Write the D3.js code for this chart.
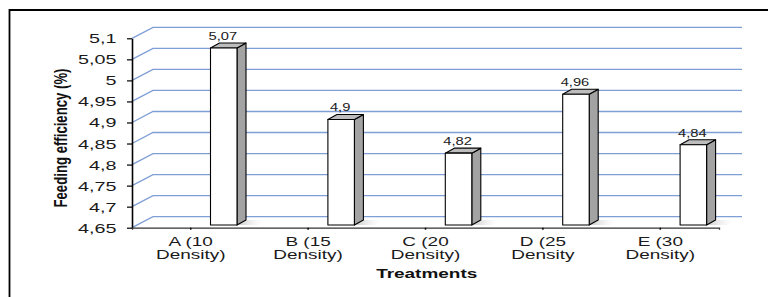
<!DOCTYPE html>
<html>
<head>
<meta charset="utf-8">
<script src="https://cdn.jsdelivr.net/npm/d3@7"></script>
<style>
  html, body { margin: 0; padding: 0; background: #fff; }
  svg { display: block; font-family: "Liberation Sans", Arial, sans-serif; }
</style>
</head>
<body>
<svg id="chart" width="768" height="297"></svg>
<script>
const categories = ["A (10 Density)", "B (15 Density)", "C (20 Density)", "D (25 Density", "E (30 Density)"];
const values = [5.07, 4.9, 4.82, 4.96, 4.84];
const yTicks = [4.65, 4.7, 4.75, 4.8, 4.85, 4.9, 4.95, 5, 5.05, 5.1];
const yTitle = "Feeding efficiency (%)";
const xTitle = "Treatments";

(function () {
const svg = d3.select("#chart");
const SX = 1.58; // horizontal stretch of texts in the original

const pLeft = 132, pRight = 719, pTop = 38.3, pBottom = 227.7;
const depthX = 21, depthY = -11;
const wallRight = 742;

const x = d3.scaleBand().domain(categories).range([pLeft, pRight]).paddingInner(0).paddingOuter(0);
const y = d3.scaleLinear().domain([4.65, 5.1]).range([pBottom, pTop]);

const comma = v => String(v).replace(".", ",");

const defs = svg.append("defs");
const lg = defs.append("linearGradient").attr("id", "shadow").attr("x1", 0).attr("x2", 1).attr("y1", 0).attr("y2", 0);
lg.append("stop").attr("offset", 0).attr("stop-color", "#c8c8c8");
lg.append("stop").attr("offset", 1).attr("stop-color", "#ffffff").attr("stop-opacity", 0);

// frame
svg.append("path")
  .attr("d", `M9.5,297 L9.5,10 L768,10`)
  .attr("fill", "none").attr("stroke", "#000").attr("stroke-width", 1.8);

// grid: left wall diagonals + back wall horizontals
const grid = svg.append("g").attr("stroke", "#7f9ed6").attr("stroke-width", 1.3).attr("fill", "none");
grid.selectAll("path").data(yTicks).join("path")
  .attr("d", t => `M${pLeft},${y(t)} L${pLeft + depthX},${y(t) + depthY} L${wallRight},${y(t) + depthY}`);

// y axis
const yAxis = svg.append("g").attr("transform", `translate(${pLeft},0)`)
  .call(d3.axisLeft(y).tickValues(yTicks).tickSize(5).tickSizeOuter(0).tickFormat(comma));
yAxis.select(".domain").attr("stroke", "#000").attr("stroke-width", 1.6);
yAxis.selectAll(".tick line").attr("stroke", "#000").attr("stroke-width", 1.2);
yAxis.selectAll(".tick text")
  .attr("x", -15.5 / SX).attr("dy", "0.36em")
  .attr("transform", `scale(${SX},1)`)
  .attr("font-size", 12.5).attr("fill", "#1a1a1a")
  .attr("font-family", "'Liberation Sans', Arial, sans-serif");

// x axis
const xAxis = svg.append("g").attr("transform", `translate(0,${pBottom})`)
  .call(d3.axisBottom(x).tickSize(2).tickSizeOuter(2).tickFormat(""));
xAxis.select(".domain").attr("stroke", "#333").attr("stroke-width", 1.3);
xAxis.selectAll(".tick line").attr("stroke", "#000").attr("stroke-width", 1.5);

const xl = svg.append("g");
categories.forEach(c => {
  const m = c.match(/^(\S+ \(\d+) (.*)$/);
  const cx = x(c) + x.bandwidth() / 2;
  const g = xl.append("g").attr("transform", `translate(${cx},0) scale(${SX},1)`);
  g.append("text").attr("x", 0).attr("y", 246).attr("text-anchor", "middle")
    .attr("font-size", 12).attr("fill", "#1a1a1a").text(m[1]);
  g.append("text").attr("x", 0).attr("y", 259.5).attr("text-anchor", "middle")
    .attr("font-size", 12).attr("fill", "#1a1a1a").text(m[2]);
});

// bars (3D)
const barOff = 19.8, barW = 26.5, bdx = 9, bdy = -5, barBottom = 225;
const bars = svg.append("g");
categories.forEach((c, i) => {
  const v = values[i];
  const x0 = x(c) + x.bandwidth() / 2 + barOff;
  const yt = y(v) - 3;
  // floor shadow
  bars.append("path").attr("fill", "url(#shadow)")
    .attr("d", `M${x0 + barW},${barBottom} L${x0 + barW + bdx},${barBottom + bdy} L${x0 + barW + bdx + 22},${barBottom + bdy} L${x0 + barW + 20},${barBottom} Z`);
  const g = bars.append("g").attr("stroke", "#000").attr("stroke-width", 1.1).attr("stroke-linejoin", "round");
  g.append("path").attr("fill", "#a3a3a3")
    .attr("d", `M${x0 + barW},${barBottom} L${x0 + barW + bdx},${barBottom + bdy} L${x0 + barW + bdx},${yt + bdy} L${x0 + barW},${yt} Z`);
  g.append("path").attr("fill", "#bdbdbd")
    .attr("d", `M${x0},${yt} L${x0 + bdx},${yt + bdy} L${x0 + barW + bdx},${yt + bdy} L${x0 + barW},${yt} Z`);
  g.append("rect").attr("x", x0).attr("y", yt).attr("width", barW).attr("height", barBottom - yt).attr("fill", "#fff");
  svg.append("g").attr("transform", `translate(${x0 + barW / 2 - 1},${yt - 8}) scale(1.4,1)`)
    .append("text").attr("text-anchor", "middle").attr("font-size", 10.5).attr("fill", "#1a1a1a").text(comma(v));
});

// axis titles
svg.append("g").attr("transform", `translate(426.7,278) scale(${SX},1)`)
  .append("text").attr("text-anchor", "middle").attr("font-size", 12).attr("font-weight", "bold").attr("fill", "#111").text(xTitle);

svg.append("g").attr("transform", `translate(67,138) scale(1.55,1) rotate(-90)`)
  .append("text").attr("text-anchor", "middle").attr("font-size", 12).attr("font-weight", "bold")
  .attr("textLength", 139).attr("lengthAdjust", "spacingAndGlyphs")
  .attr("fill", "#111").text(yTitle);
})();
</script>
</body>
</html>
